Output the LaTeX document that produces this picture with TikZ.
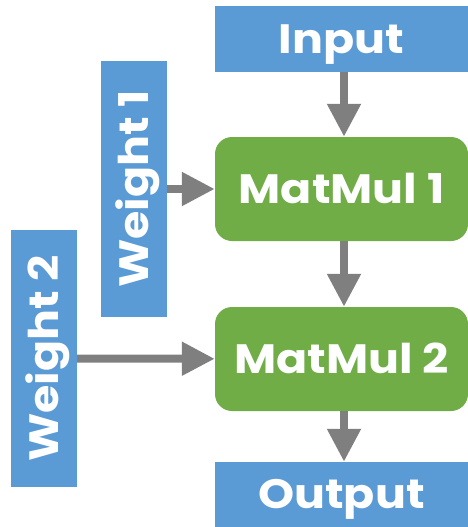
\documentclass[tikz,border=0pt]{standalone}
\usepackage{fontspec}
\setmainfont{Poppins}[FakeStretch=1.12]
\usetikzlibrary{arrows.meta}
\definecolor{boxblue}{HTML}{5B9BD5}
\definecolor{boxgreen}{HTML}{70AD47}
\definecolor{arrgray}{HTML}{7F7F7F}
\tikzset{
  lbl/.style={text=white, font=\fontsize{41}{48}\selectfont\bfseries, inner sep=0pt, text height=28.6pt, text depth=0pt},
  bluebox/.style={lbl, fill=boxblue},
  greenbox/.style={lbl, fill=boxgreen, rounded corners=17pt},
  flow/.style={draw=arrgray, line width=8pt, -{Triangle[length=33pt,width=32pt]}}
}
\begin{document}
\begin{tikzpicture}[x=1pt,y=-1pt]
\useasboundingbox (0,0) rectangle (468,527);
\node[bluebox, minimum width=253pt, minimum height=66pt] (input) at (341.5,39) {Input};
\node[greenbox, minimum width=253pt, minimum height=104pt] (mm1) at (341.5,189) {MatMul 1};
\node[greenbox, minimum width=253pt, minimum height=104pt] (mm2) at (341.5,359) {MatMul 2};
\node[bluebox, minimum width=253pt, minimum height=65pt] (output) at (341.5,494.5) {Output};
\node[bluebox, rotate=90, minimum width=256pt, minimum height=66pt] (w1) at (134,189) {Weight 1};
\node[bluebox, rotate=90, minimum width=257pt, minimum height=66pt] (w2) at (44,358.5) {Weight 2};
\draw[flow] ([xshift=2.5pt]input.south) -- ([xshift=2.5pt]mm1.north);
\draw[flow] ([xshift=2.5pt]mm1.south) -- ([xshift=2.5pt]mm2.north);
\draw[flow] ([xshift=2.5pt]mm2.south) -- ([xshift=2.5pt]output.north);
\draw[flow] (w1) -- (mm1);
\draw[flow] (w2) -- (mm2);
\end{tikzpicture}
\end{document}
